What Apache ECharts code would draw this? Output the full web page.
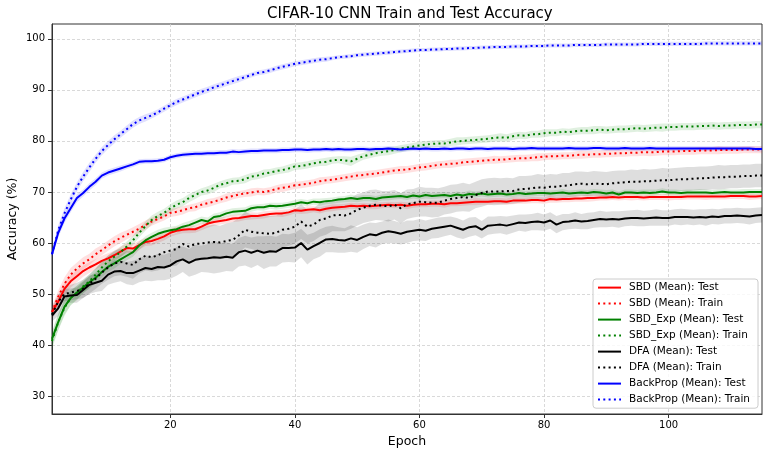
<!DOCTYPE html>
<html>
<head>
<meta charset="utf-8">
<script src="https://cdn.jsdelivr.net/npm/echarts@6/dist/echarts.min.js"></script>
<style>
  html, body { margin: 0; padding: 0; background: #fff; }
  #chart { width: 769px; height: 456px; }
</style>
</head>
<body>
<div id="chart"></div>
<script>
// mean accuracy per epoch (1..115)
var sbdTest = [
  46.5, 48.5, 51.0, 52.5, 53.5, 54.5, 55.2, 55.8, 56.5, 57.0,
  57.6, 58.3, 59.0, 58.9, 59.6, 60.2, 60.4, 60.8, 61.3, 62.0,
  62.4, 62.6, 62.7, 62.7, 63.2, 63.8, 64.1, 64.3, 64.5, 64.8,
  64.9, 65.1, 65.3, 65.3, 65.5, 65.7, 65.8, 65.8, 66.0, 66.4,
  66.3, 66.5, 66.6, 66.4, 66.7, 66.9, 67.0, 67.1, 67.3, 67.2,
  67.3, 67.2, 67.3, 67.4, 67.5, 67.4, 67.5, 67.3, 67.5, 67.6,
  67.6, 67.7, 67.7, 67.6, 67.8, 67.8, 67.9, 68.0, 68.1, 68.1,
  68.1, 68.2, 68.2, 68.1, 68.3, 68.3, 68.3, 68.4, 68.4, 68.3,
  68.6, 68.5, 68.6, 68.6, 68.7, 68.7, 68.8, 68.8, 68.9, 68.9,
  69.0, 68.9, 69.0, 69.0, 69.0, 68.9, 69.0, 69.0, 69.0, 69.0,
  69.0, 69.0, 69.1, 69.1, 69.1, 69.1, 69.1, 69.1, 69.1, 69.2,
  69.2, 69.2, 69.1, 69.1, 69.2
];
var sbdTrain = [
  46.5, 49.5, 52.0, 53.8, 55.0, 56.0, 56.8, 57.8, 58.6, 59.5,
  60.3, 61.0, 61.6, 62.2, 62.8, 63.5, 64.2, 64.7, 65.2, 65.9,
  66.1, 66.4, 66.8, 67.0, 67.5, 67.8, 68.1, 68.5, 68.9, 69.2,
  69.5, 69.7, 69.9, 70.1, 70.0, 70.2, 70.6, 70.8, 71.0, 71.3,
  71.4, 71.6, 71.8, 72.1, 72.3, 72.4, 72.6, 72.8, 73.0, 73.2,
  73.3, 73.5, 73.6, 73.8, 74.0, 74.2, 74.3, 74.4, 74.6, 74.8,
  74.9, 75.1, 75.3, 75.4, 75.5, 75.6, 75.8, 75.9, 76.0, 76.1,
  76.2, 76.3, 76.3, 76.4, 76.5, 76.6, 76.6, 76.7, 76.8, 76.9,
  77.0, 77.0, 77.1, 77.1, 77.2, 77.3, 77.3, 77.4, 77.4, 77.5,
  77.5, 77.6, 77.6, 77.7, 77.7, 77.8, 77.8, 77.8, 77.9, 77.9,
  77.9, 78.0, 78.0, 78.0, 78.1, 78.1, 78.1, 78.2, 78.2, 78.2,
  78.2, 78.3, 78.3, 78.3, 78.3
];
var sbdExpTest = [
  41.2, 44.5, 47.5, 49.2, 50.3, 51.3, 52.3, 53.2, 54.3, 55.3,
  56.0, 56.8, 57.5, 58.2, 59.5, 60.5, 61.2, 61.8, 62.2, 62.5,
  62.7, 63.2, 63.5, 64.0, 64.5, 64.2, 65.1, 65.3, 65.8, 66.1,
  66.2, 66.3, 66.8, 67.0, 67.0, 67.3, 67.2, 67.3, 67.5, 67.7,
  68.0, 67.8, 68.1, 68.0, 68.2, 68.3, 68.5, 68.6, 68.8, 68.6,
  68.8, 68.8, 68.6, 68.9, 69.0, 69.1, 69.2, 69.0, 69.3, 69.1,
  69.4, 69.2, 69.3, 69.4, 69.2, 69.5, 69.3, 69.6, 69.5, 69.7,
  69.5, 69.6, 69.7, 69.5, 69.6, 69.8, 69.6, 69.7, 69.8, 69.8,
  69.7, 69.8, 69.9, 69.7, 69.8, 69.9, 69.8, 70.0, 69.9, 69.7,
  69.9, 69.5, 69.9, 69.9, 69.8, 69.9, 69.8, 69.9, 70.1, 69.9,
  69.9, 69.8, 69.9, 69.9, 69.9, 69.9, 69.8, 69.9, 70.0, 69.9,
  69.9, 69.9, 70.0, 70.0, 70.0
];
var sbdExpTrain = [
  40.8, 44.5, 47.3, 49.3, 50.2, 51.5, 52.5, 53.8, 55.2, 56.4,
  57.3, 58.2, 59.3, 60.5, 62.0, 63.3, 64.5, 65.3, 65.9, 66.8,
  67.5, 68.0, 68.8, 69.4, 70.0, 70.3, 70.8, 71.4, 71.7, 72.1,
  72.2, 72.5, 73.0, 73.2, 73.6, 73.8, 74.1, 74.3, 74.6, 75.0,
  75.1, 75.3, 75.6, 75.8, 75.9, 76.2, 76.3, 76.2, 76.0, 76.5,
  77.0, 77.3, 77.6, 77.8, 78.0, 78.2, 78.5, 78.7, 78.9, 79.1,
  79.3, 79.4, 79.5, 79.5, 79.7, 79.9, 80.0, 80.1, 80.2, 80.3,
  80.4, 80.6, 80.7, 80.6, 80.9, 81.1, 81.0, 81.3, 81.3, 81.5,
  81.6, 81.6, 81.8, 81.7, 81.9, 82.0, 82.0, 82.1, 82.2, 82.1,
  82.2, 82.3, 82.3, 82.4, 82.5, 82.4, 82.5, 82.6, 82.6, 82.7,
  82.7, 82.8, 82.8, 82.8, 82.9, 82.9, 83.0, 82.9, 83.0, 83.0,
  83.1, 83.1, 83.1, 83.2, 83.2
];
var dfaTest = [
  45.8, 47.2, 49.5, 49.7, 49.8, 50.8, 51.8, 52.2, 52.6, 53.8,
  54.4, 54.5, 54.1, 54.1, 54.6, 55.1, 54.9, 55.3, 55.2, 55.6,
  56.4, 56.8, 56.1, 56.7, 56.9, 57.0, 57.2, 57.1, 57.3, 57.1,
  58.2, 58.5, 58.1, 58.5, 58.1, 58.4, 58.3, 59.0, 59.0, 59.1,
  60.0, 58.7, 59.4, 60.0, 60.7, 60.8, 60.6, 60.5, 60.9, 60.6,
  61.2, 61.7, 61.5, 62.0, 62.3, 62.1, 61.8, 62.2, 62.4, 62.6,
  62.4, 62.8, 63.0, 63.2, 63.4, 63.0, 62.6, 63.1, 63.3, 62.6,
  63.4, 63.5, 63.6, 63.4, 63.7, 64.0, 63.9, 64.1, 64.2, 64.0,
  64.4, 63.6, 64.1, 64.2, 64.4, 64.2, 64.3, 64.5, 64.7, 64.6,
  64.7, 64.6, 64.8, 64.9, 64.9, 64.8, 64.9, 65.0, 64.9, 64.9,
  65.1, 65.1, 65.1, 65.0, 65.1, 65.0, 65.2, 65.1, 65.3, 65.3,
  65.4, 65.3, 65.2, 65.4, 65.5
];
var dfaTrain = [
  46.0, 48.5, 50.0, 50.3, 50.6, 51.0, 52.0, 53.0, 54.2, 55.2,
  56.0, 56.3, 56.0, 55.7, 56.8, 57.5, 57.2, 57.6, 58.2, 58.5,
  58.8, 59.8, 59.3, 59.8, 59.9, 60.1, 60.2, 60.1, 60.4, 60.6,
  61.5, 62.6, 62.2, 62.0, 61.9, 61.8, 62.0, 62.6, 62.8, 63.2,
  64.2, 63.2, 63.6, 64.5, 64.8, 65.4, 65.5, 65.4, 65.8, 66.5,
  66.9, 67.3, 67.5, 67.3, 67.2, 67.5, 66.8, 67.6, 67.8, 68.1,
  68.0, 67.9, 67.9, 68.3, 68.6, 68.8, 69.0, 68.8, 69.4, 69.8,
  70.1, 70.1, 70.1, 70.2, 70.2, 70.5, 70.6, 70.7, 70.9, 70.8,
  71.0, 71.0, 71.2, 71.3, 71.5, 71.6, 71.5, 71.6, 71.6, 71.5,
  71.7, 71.8, 71.9, 72.0, 72.0, 72.1, 72.1, 72.2, 72.3, 72.3,
  72.4, 72.5, 72.5, 72.6, 72.7, 72.7, 72.8, 72.9, 72.9, 73.0,
  73.0, 73.1, 73.1, 73.2, 73.2
];
var bpTest = [
  57.8, 62.0, 64.8, 66.8, 68.8, 69.8, 71.0, 72.0, 73.2, 73.8,
  74.2, 74.6, 75.0, 75.4, 75.9, 76.0, 76.0, 76.1, 76.3, 76.8,
  77.1, 77.3, 77.4, 77.5, 77.5, 77.6, 77.6, 77.7, 77.7, 77.9,
  77.8, 77.9, 78.0, 78.0, 78.1, 78.1, 78.1, 78.2, 78.2, 78.3,
  78.3, 78.2, 78.3, 78.3, 78.4, 78.3, 78.4, 78.3, 78.3, 78.4,
  78.4, 78.3, 78.4, 78.4, 78.5, 78.4, 78.3, 78.4, 78.5, 78.4,
  78.5, 78.4, 78.4, 78.5, 78.4, 78.5, 78.5, 78.4, 78.5, 78.5,
  78.4, 78.5, 78.5, 78.5, 78.4, 78.5, 78.5, 78.6, 78.5, 78.5,
  78.5, 78.5, 78.5, 78.6, 78.5, 78.5, 78.5, 78.6, 78.6, 78.5,
  78.5, 78.5, 78.6, 78.5, 78.5, 78.5, 78.6, 78.5, 78.5, 78.5,
  78.5, 78.5, 78.5, 78.5, 78.5, 78.5, 78.5, 78.5, 78.5, 78.5,
  78.5, 78.5, 78.5, 78.4, 78.4
];
var bpTrain = [
  57.8, 62.5, 65.8, 68.5, 71.0, 73.0, 74.8, 76.5, 78.0, 79.2,
  80.3, 81.3, 82.3, 83.3, 84.0, 84.5, 85.0, 85.6, 86.3, 87.0,
  87.6, 88.1, 88.6, 89.1, 89.6, 90.0, 90.5, 90.9, 91.3, 91.7,
  92.1, 92.5, 92.9, 93.3, 93.5, 93.8, 94.2, 94.5, 94.8, 95.1,
  95.3, 95.5, 95.7, 95.9, 96.0, 96.2, 96.4, 96.5, 96.6, 96.8,
  96.9, 97.0, 97.1, 97.2, 97.3, 97.4, 97.5, 97.6, 97.7, 97.8,
  97.8, 97.9, 97.9, 98.0, 98.0, 98.1, 98.1, 98.2, 98.2, 98.3,
  98.3, 98.4, 98.4, 98.4, 98.5, 98.5, 98.5, 98.6, 98.6, 98.6,
  98.7, 98.7, 98.7, 98.7, 98.8, 98.8, 98.8, 98.8, 98.8, 98.9,
  98.9, 98.9, 98.9, 98.9, 98.9, 99.0, 99.0, 99.0, 99.0, 99.0,
  99.0, 99.0, 99.0, 99.0, 99.0, 99.1, 99.1, 99.1, 99.1, 99.1,
  99.1, 99.1, 99.1, 99.1, 99.1
];

// half width of the shaded band (spread over runs)
var sbdTestSd = [
  1.2, 1.3, 1.3, 1.2, 1.2, 1.1, 1.1, 1.0, 1.0, 1.0,
  0.9, 1.0, 0.9, 0.9, 0.9, 0.8, 0.9, 0.8, 0.8, 0.8,
  0.8, 0.7, 0.8, 0.7, 0.7, 0.8, 0.7, 0.7, 0.7, 0.7,
  0.7, 0.6, 0.7, 0.6, 0.7, 0.6, 0.6, 0.7, 0.6, 0.6,
  0.6, 0.7, 0.6, 0.6, 0.6, 0.7, 0.6, 0.6, 0.6, 0.6,
  0.6, 0.6, 0.7, 0.6, 0.6, 0.6, 0.6, 0.7, 0.6, 0.6,
  0.6, 0.6, 0.6, 0.7, 0.6, 0.6, 0.6, 0.6, 0.7, 0.6,
  0.6, 0.6, 0.6, 0.6, 0.7, 0.6, 0.6, 0.6, 0.6, 0.6,
  0.7, 0.6, 0.6, 0.6, 0.6, 0.6, 0.7, 0.6, 0.6, 0.6,
  0.6, 0.6, 0.6, 0.7, 0.6, 0.6, 0.6, 0.6, 0.6, 0.7,
  0.6, 0.6, 0.6, 0.6, 0.6, 0.7, 0.6, 0.6, 0.6, 0.6,
  0.6, 0.6, 0.7, 0.6, 0.6
];
var sbdTrainSd = [
  1.0, 1.2, 1.3, 1.3, 1.2, 1.2, 1.1, 1.1, 1.0, 1.0,
  1.0, 1.0, 0.9, 0.9, 0.9, 0.9, 0.8, 0.8, 0.8, 0.8,
  0.8, 0.8, 0.7, 0.8, 0.7, 0.8, 0.7, 0.7, 0.8, 0.7,
  0.7, 0.7, 0.8, 0.7, 0.7, 0.7, 0.7, 0.8, 0.7, 0.7,
  0.7, 0.7, 0.7, 0.8, 0.7, 0.7, 0.7, 0.7, 0.7, 0.8,
  0.7, 0.7, 0.7, 0.7, 0.7, 0.7, 0.8, 0.7, 0.7, 0.7,
  0.7, 0.7, 0.7, 0.7, 0.8, 0.7, 0.7, 0.7, 0.7, 0.7,
  0.7, 0.8, 0.7, 0.7, 0.7, 0.7, 0.7, 0.7, 0.8, 0.7,
  0.7, 0.7, 0.7, 0.7, 0.7, 0.8, 0.7, 0.7, 0.7, 0.7,
  0.7, 0.7, 0.7, 0.7, 0.7, 0.7, 0.8, 0.7, 0.7, 0.7,
  0.7, 0.7, 0.7, 0.7, 0.7, 0.7, 0.7, 0.8, 0.7, 0.7,
  0.7, 0.7, 0.7, 0.7, 0.7
];
var sbdExpTestSd = [
  1.5, 1.6, 1.5, 1.4, 1.3, 1.2, 1.2, 1.1, 1.0, 1.0,
  1.0, 0.9, 0.9, 0.9, 0.8, 0.8, 0.8, 0.8, 0.8, 0.7,
  0.7, 0.7, 0.8, 0.7, 0.7, 0.8, 0.7, 0.7, 0.7, 0.7,
  0.7, 0.7, 0.7, 0.6, 0.7, 0.6, 0.7, 0.6, 0.6, 0.7,
  0.6, 0.6, 0.6, 0.7, 0.6, 0.6, 0.6, 0.6, 0.7, 0.6,
  0.6, 0.6, 0.6, 0.6, 0.7, 0.6, 0.6, 0.6, 0.6, 0.6,
  0.7, 0.6, 0.6, 0.6, 0.6, 0.6, 0.6, 0.7, 0.6, 0.6,
  0.6, 0.6, 0.6, 0.6, 0.6, 0.7, 0.6, 0.6, 0.6, 0.6,
  0.6, 0.6, 0.7, 0.6, 0.6, 0.6, 0.6, 0.6, 0.6, 0.7,
  0.6, 0.6, 0.6, 0.6, 0.6, 0.6, 0.7, 0.6, 0.6, 0.6,
  0.6, 0.6, 0.6, 0.6, 0.7, 0.6, 0.6, 0.6, 0.6, 0.6,
  0.6, 0.7, 0.6, 0.6, 0.6
];
var sbdExpTrainSd = [
  1.5, 1.6, 1.6, 1.5, 1.4, 1.3, 1.3, 1.2, 1.1, 1.1,
  1.0, 1.0, 1.0, 0.9, 0.9, 0.9, 0.9, 0.8, 0.8, 0.8,
  0.8, 0.8, 0.8, 0.8, 0.7, 0.8, 0.8, 0.7, 0.8, 0.7,
  0.7, 0.8, 0.7, 0.7, 0.8, 0.7, 0.7, 0.7, 0.8, 0.7,
  0.7, 0.7, 0.7, 0.7, 0.8, 0.7, 0.7, 0.8, 0.9, 0.8,
  0.7, 0.7, 0.7, 0.7, 0.8, 0.7, 0.7, 0.7, 0.7, 0.8,
  0.7, 0.7, 0.7, 0.7, 0.7, 0.8, 0.7, 0.7, 0.7, 0.7,
  0.7, 0.7, 0.8, 0.7, 0.7, 0.7, 0.7, 0.7, 0.7, 0.8,
  0.7, 0.7, 0.7, 0.7, 0.7, 0.7, 0.7, 0.8, 0.7, 0.7,
  0.7, 0.7, 0.7, 0.7, 0.7, 0.7, 0.7, 0.7, 0.8, 0.7,
  0.7, 0.7, 0.7, 0.7, 0.7, 0.7, 0.7, 0.7, 0.7, 0.7,
  0.7, 0.7, 0.7, 0.7, 0.7
];
var dfaTestSd = [
  1.2, 1.5, 1.5, 1.4, 1.5, 1.6, 1.8, 1.8, 2.0, 2.0,
  2.2, 2.0, 2.2, 2.4, 2.3, 2.5, 2.4, 2.6, 2.5, 2.6,
  2.8, 2.5, 2.7, 2.9, 2.6, 2.8, 3.2, 2.9, 2.8, 2.7,
  2.8, 2.9, 3.0, 2.8, 3.2, 3.0, 2.9, 2.8, 2.7, 2.9,
  2.8, 2.9, 2.6, 2.7, 2.5, 2.6, 2.5, 2.4, 2.6, 2.5,
  2.4, 2.3, 2.4, 2.2, 2.3, 2.2, 2.1, 2.2, 2.0, 2.1,
  2.0, 1.9, 2.0, 1.9, 1.8, 1.9, 1.8, 1.9, 1.8, 1.7,
  1.8, 1.7, 1.7, 1.8, 1.7, 1.6, 1.7, 1.6, 1.7, 1.6,
  1.6, 1.7, 1.6, 1.5, 1.6, 1.5, 1.6, 1.5, 1.6, 1.5,
  1.5, 1.6, 1.5, 1.5, 1.6, 1.5, 1.5, 1.6, 1.5, 1.5,
  1.5, 1.6, 1.5, 1.5, 1.5, 1.6, 1.5, 1.5, 1.5, 1.5,
  1.5, 1.5, 1.6, 1.5, 1.5
];
var dfaTrainSd = [
  1.0, 1.3, 1.4, 1.5, 1.6, 1.8, 1.9, 2.0, 2.2, 2.4,
  2.5, 2.6, 2.6, 2.7, 2.8, 2.9, 2.8, 3.0, 3.0, 3.1,
  3.2, 3.1, 3.2, 3.3, 3.2, 3.3, 3.4, 3.3, 3.4, 3.5,
  3.4, 3.5, 3.4, 3.5, 3.6, 3.5, 3.4, 3.5, 3.4, 3.3,
  3.4, 3.3, 3.2, 3.3, 3.2, 3.1, 3.2, 3.1, 3.0, 3.1,
  3.0, 3.1, 3.0, 2.9, 3.0, 2.9, 3.0, 2.9, 2.8, 2.9,
  2.8, 2.9, 2.8, 2.7, 2.8, 2.7, 2.8, 2.7, 2.6, 2.7,
  2.6, 2.7, 2.6, 2.6, 2.5, 2.6, 2.5, 2.5, 2.6, 2.5,
  2.5, 2.4, 2.5, 2.4, 2.5, 2.4, 2.4, 2.5, 2.4, 2.4,
  2.4, 2.4, 2.3, 2.4, 2.3, 2.4, 2.3, 2.3, 2.4, 2.3,
  2.3, 2.3, 2.4, 2.3, 2.3, 2.3, 2.3, 2.4, 2.3, 2.3,
  2.3, 2.3, 2.3, 2.3, 2.3
];
var bpTestSd = [
  0.8, 0.9, 0.9, 0.8, 0.8, 0.7, 0.7, 0.7, 0.6, 0.6,
  0.6, 0.6, 0.5, 0.5, 0.5, 0.5, 0.5, 0.5, 0.5, 0.5,
  0.5, 0.5, 0.5, 0.5, 0.5, 0.5, 0.5, 0.5, 0.5, 0.5,
  0.5, 0.5, 0.5, 0.5, 0.5, 0.5, 0.5, 0.5, 0.5, 0.5,
  0.5, 0.5, 0.5, 0.5, 0.5, 0.5, 0.5, 0.5, 0.5, 0.5,
  0.5, 0.5, 0.5, 0.5, 0.5, 0.5, 0.5, 0.5, 0.5, 0.5,
  0.5, 0.5, 0.5, 0.5, 0.5, 0.5, 0.5, 0.5, 0.5, 0.5,
  0.5, 0.5, 0.5, 0.5, 0.5, 0.5, 0.5, 0.5, 0.5, 0.5,
  0.5, 0.5, 0.5, 0.5, 0.5, 0.5, 0.5, 0.5, 0.5, 0.5,
  0.5, 0.5, 0.5, 0.5, 0.5, 0.5, 0.5, 0.5, 0.5, 0.5,
  0.5, 0.5, 0.5, 0.5, 0.5, 0.5, 0.5, 0.5, 0.5, 0.5,
  0.5, 0.5, 0.5, 0.5, 0.5
];
var bpTrainSd = [
  0.9, 1.0, 1.0, 1.0, 0.9, 0.9, 0.9, 0.8, 0.8, 0.8,
  0.8, 0.7, 0.7, 0.7, 0.7, 0.7, 0.6, 0.6, 0.6, 0.6,
  0.6, 0.6, 0.6, 0.6, 0.6, 0.6, 0.6, 0.6, 0.6, 0.6,
  0.6, 0.5, 0.5, 0.5, 0.5, 0.5, 0.5, 0.5, 0.5, 0.5,
  0.5, 0.5, 0.5, 0.5, 0.5, 0.4, 0.4, 0.4, 0.4, 0.4,
  0.4, 0.4, 0.4, 0.4, 0.4, 0.4, 0.4, 0.4, 0.4, 0.4,
  0.4, 0.4, 0.4, 0.4, 0.4, 0.4, 0.4, 0.4, 0.4, 0.4,
  0.4, 0.4, 0.4, 0.4, 0.4, 0.4, 0.4, 0.4, 0.4, 0.4,
  0.4, 0.4, 0.4, 0.4, 0.4, 0.4, 0.4, 0.4, 0.4, 0.4,
  0.4, 0.4, 0.4, 0.4, 0.4, 0.4, 0.4, 0.4, 0.4, 0.4,
  0.4, 0.4, 0.4, 0.4, 0.4, 0.4, 0.4, 0.4, 0.4, 0.4,
  0.4, 0.4, 0.4, 0.4, 0.4
];

var xTicks = [20, 40, 60, 80, 100];
var yTicks = [30, 40, 50, 60, 70, 80, 90, 100];

var names = [
  'SBD (Mean): Test', 'SBD (Mean): Train',
  'SBD_Exp (Mean): Test', 'SBD_Exp (Mean): Train',
  'DFA (Mean): Test', 'DFA (Mean): Train',
  'BackProp (Mean): Test', 'BackProp (Mean): Train'
];

var epochs = sbdTest.map(function (v, i) { return i + 1; });
var font = 'DejaVu Sans';

function pairs(arr) {
  return arr.map(function (v, i) { return [epochs[i], v]; });
}

// shaded band drawn as one polygon, points mapped through the axes
function band(mean, sd, color) {
  var rows = mean.map(function (v, i) { return [epochs[i], v - sd[i], v + sd[i]]; });
  return {
    type: 'custom',
    silent: true,
    z: 1,
    data: rows,
    encode: { x: 0, y: [1, 2] },
    renderItem: function (params, api) {
      if (params.dataIndex !== 0) return null;
      var up = [], lo = [];
      rows.forEach(function (r) {
        up.push(api.coord([r[0], r[2]]));
        lo.push(api.coord([r[0], r[1]]));
      });
      return {
        type: 'polygon',
        shape: { points: up.concat(lo.reverse()) },
        style: { fill: color }
      };
    }
  };
}

function line(name, arr, color, dotted) {
  return {
    type: 'line',
    name: name,
    data: pairs(arr),
    symbol: 'none',
    z: 3,
    itemStyle: { color: color },
    lineStyle: { color: color, width: 2, type: dotted ? [2, 3.3] : 'solid' }
  };
}

var chart = echarts.init(document.getElementById('chart'));

chart.setOption({
  animation: false,
  backgroundColor: '#fff',
  title: {
    text: 'CIFAR-10 CNN Train and Test Accuracy',
    left: 262,
    top: 2,
    textStyle: { fontFamily: font, fontSize: 15, fontWeight: 'normal', color: '#000' }
  },
  grid: {
    left: 52, right: 7, top: 24, bottom: 42,
    outerBoundsMode: 'none',
    containLabel: false,
    show: true, borderColor: '#333', borderWidth: 1
  },
  legend: {
    orient: 'vertical',
    left: 593,
    top: 279,
    itemWidth: 23,
    itemHeight: 14,
    itemGap: 4.8,
    padding: [3, 8, 3, 4],
    backgroundColor: 'rgba(255,255,255,0.8)',
    borderColor: '#cccccc',
    borderWidth: 1,
    borderRadius: 3,
    itemStyle: { opacity: 0 },
    textStyle: { fontFamily: font, fontSize: 10.5, color: '#000', padding: [0, 0, 0, 3] },
    data: names
  },
  xAxis: {
    type: 'value',
    min: 1,
    max: 115,
    name: 'Epoch',
    nameLocation: 'middle',
    nameGap: 21,
    nameTextStyle: { fontFamily: font, fontSize: 12.5, color: '#000' },
    axisLine: { lineStyle: { color: '#333', width: 1 } },
    axisTick: { show: true, length: 4, customValues: xTicks, lineStyle: { color: '#333' } },
    axisLabel: { customValues: xTicks, margin: 6, fontFamily: font, fontSize: 10, color: '#000' },
    splitLine: { show: true, lineStyle: { color: '#cfcfcf', width: 0.8, type: [3, 2] } }
  },
  yAxis: {
    type: 'value',
    min: 26.5,
    max: 102.9,
    name: 'Accuracy (%)',
    nameLocation: 'middle',
    nameGap: 33,
    nameMoveOverlap: false,
    nameTextStyle: { fontFamily: font, fontSize: 12.5, color: '#000' },
    axisLine: { show: true, lineStyle: { color: '#333', width: 1 } },
    axisTick: { show: true, length: 4, customValues: yTicks, lineStyle: { color: '#333' } },
    axisLabel: { customValues: yTicks, margin: 7, fontFamily: font, fontSize: 10, color: '#000' },
    splitLine: { show: true, lineStyle: { color: '#cfcfcf', width: 0.8, type: [3, 2] } }
  },
  series: [
    band(sbdTest, sbdTestSd, 'rgba(255,0,0,0.12)'),
    band(sbdTrain, sbdTrainSd, 'rgba(255,0,0,0.12)'),
    band(sbdExpTest, sbdExpTestSd, 'rgba(0,128,0,0.12)'),
    band(sbdExpTrain, sbdExpTrainSd, 'rgba(0,128,0,0.12)'),
    band(dfaTest, dfaTestSd, 'rgba(0,0,0,0.13)'),
    band(dfaTrain, dfaTrainSd, 'rgba(0,0,0,0.13)'),
    band(bpTest, bpTestSd, 'rgba(0,0,255,0.12)'),
    band(bpTrain, bpTrainSd, 'rgba(0,0,255,0.12)'),
    line(names[0], sbdTest, '#ff0000', false),
    line(names[1], sbdTrain, '#ff0000', true),
    line(names[2], sbdExpTest, '#008000', false),
    line(names[3], sbdExpTrain, '#008000', true),
    line(names[4], dfaTest, '#000000', false),
    line(names[5], dfaTrain, '#000000', true),
    line(names[6], bpTest, '#0000ff', false),
    line(names[7], bpTrain, '#0000ff', true)
  ]
});
</script>
</body>
</html>
